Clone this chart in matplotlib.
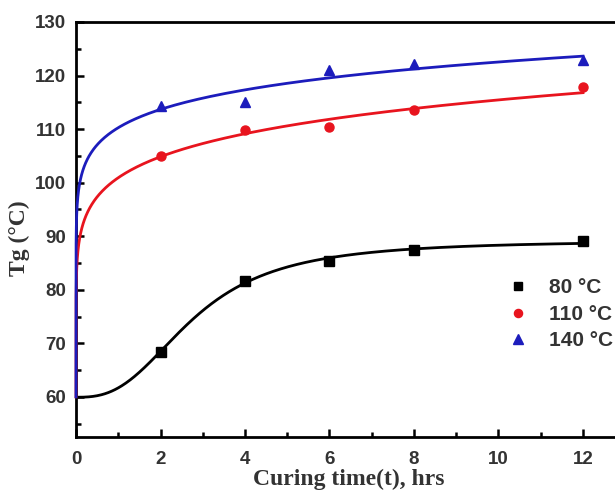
import numpy as np
import matplotlib
matplotlib.use('Agg')
import matplotlib.pyplot as plt
from matplotlib.ticker import MultipleLocator

# 数据
time_hrs = [2, 4, 6, 8, 12]
tg_80 = [68.3, 81.7, 85.4, 87.4, 89.1]
tg_110 = [105.0, 109.9, 110.3, 113.5, 117.8]
tg_140 = [114.3, 115.1, 121.0, 122.2, 122.9]
tg_start = 60.0  # t=0 时的 Tg
series_labels = ['80 °C', '110 °C', '140 °C']
series_colors = ['black', '#e8141e', '#1c1cbc']
series_markers = ['s', 'o', '^']


def fit_hill(t, y):
    """Hill 拟合：网格搜索 k, n，START/END 线性求解"""
    t = np.asarray(t, float)
    y = np.asarray(y, float)
    best = None
    for k in np.linspace(1.0, 6.0, 201):
        for n in np.linspace(1.0, 5.0, 161):
            s = t ** n / (k ** n + t ** n)
            A = np.column_stack([1 - s, s])
            coef, *_ = np.linalg.lstsq(A, y, rcond=None)
            err = np.sum((A @ coef - y) ** 2)
            if best is None or err < best[0]:
                best = (err, coef[0], coef[1], k, n)
    _, y0, y1, k, n = best
    return lambda x: y0 + (y1 - y0) * x ** n / (k ** n + x ** n)


def fit_power(t, y, y0):
    """y = y0 + b * t^c 拟合"""
    t = np.asarray(t, float)
    y = np.asarray(y, float)
    c, lnb = np.polyfit(np.log(t), np.log(y - y0), 1)
    return lambda x: y0 + np.exp(lnb) * np.power(x, c)


fig = plt.figure(figsize=(6.15, 4.93), dpi=100)
ax = fig.add_axes([76 / 615, 1 - 437 / 493, 1 - 76 / 615, (437 - 22) / 493])

tt = np.linspace(0, 12, 600)
tt_log = np.concatenate([[0.0], np.geomspace(1e-6, 12, 800)])

f80 = fit_hill([0] + time_hrs, [tg_start] + tg_80)
ax.plot(tt, f80(tt), color=series_colors[0], lw=2, zorder=3)

f110 = fit_power(time_hrs, tg_110, tg_start)
ax.plot(tt_log, f110(tt_log), color=series_colors[1], lw=2, zorder=3,
        clip_on=False)

f140 = fit_power(time_hrs, tg_140, tg_start)
ax.plot(tt_log, f140(tt_log), color=series_colors[2], lw=2, zorder=3.1,
        clip_on=False)

for ys, lab, col, mk in zip([tg_80, tg_110, tg_140], series_labels,
                            series_colors, series_markers):
    ax.plot(time_hrs, ys, linestyle='none', marker=mk, color=col,
            markersize=6.5 if mk != '^' else 7.5, label=lab, zorder=4)

ax.set_xlim(0, (615 - 76) / 42.25)
ax.set_ylim(52.5, 130)
ax.xaxis.set_major_locator(MultipleLocator(2))
ax.xaxis.set_minor_locator(MultipleLocator(1))
ax.yaxis.set_major_locator(MultipleLocator(10))
ax.yaxis.set_minor_locator(MultipleLocator(5))
ax.tick_params(which='both', direction='in', width=1.8, top=False, right=False)
ax.tick_params(which='major', length=6)
ax.tick_params(axis='y', which='major', pad=7)
ax.tick_params(axis='x', which='major', pad=10)
ax.tick_params(which='minor', length=3.5)

for s in ['left', 'bottom', 'top']:
    ax.spines[s].set_linewidth(2)
ax.spines['right'].set_visible(False)

for lbl in ax.get_xticklabels() + ax.get_yticklabels():
    lbl.set_fontfamily('Liberation Sans')
    lbl.set_fontweight('bold')
    lbl.set_fontsize(13.5)
    lbl.set_color('#333333')

ax.set_xlabel('Curing time(t), hrs', family='Liberation Serif',
              fontweight='bold', fontsize=17, color='#333333', va='center')
ax.set_ylabel('Tg (°C)', family='Liberation Serif',
              fontweight='bold', fontsize=17, color='#333333', va='center')
ax.xaxis.set_label_coords((349 - 76) / 539, (437 - 479) / 415)
ax.yaxis.set_label_coords((19 - 76) / 539, (437 - 238) / 415)

ax.legend(loc='upper left', bbox_to_anchor=(0.797, 0.382), frameon=False,
          prop={'family': 'Liberation Sans', 'weight': 'bold', 'size': 15},
          borderpad=0, borderaxespad=0, handletextpad=0.9, labelspacing=0.36,
          handlelength=1.2, markerscale=0.9, labelcolor='#333333')

fig.savefig('out.png', dpi=100)
